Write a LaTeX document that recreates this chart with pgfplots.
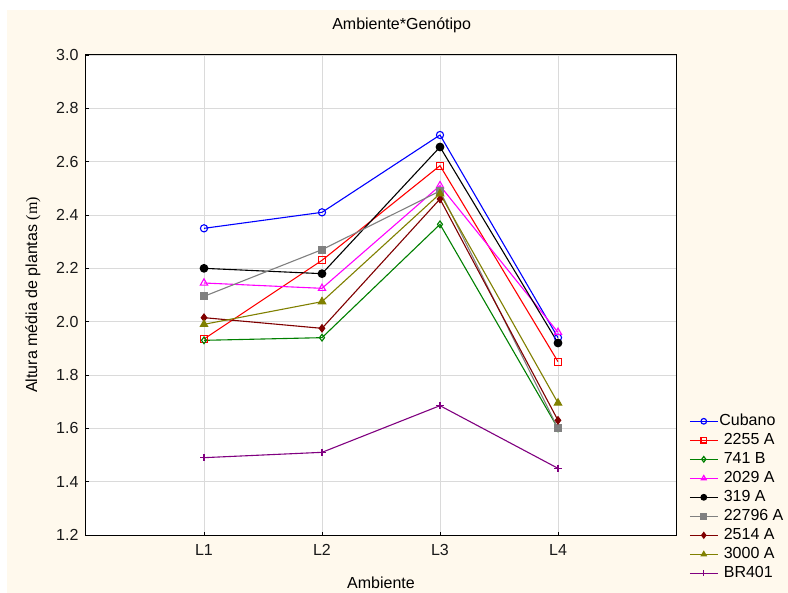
\documentclass[border=0pt]{standalone}
\usepackage{fontspec}
\setmainfont{Liberation Sans}
\newfontfamily\unitfont{Liberation Serif}
\usepackage{pgfplots}
\usepackage{pgfplotstable}
\usetikzlibrary{backgrounds}
\pgfplotsset{compat=1.18}

\definecolor{bgcream}{RGB}{255,249,237}
\definecolor{gridgray}{RGB}{218,218,218}
\definecolor{cGreen}{RGB}{0,128,0}
\definecolor{cGray}{RGB}{128,128,128}
\definecolor{cMaroon}{RGB}{128,0,0}
\definecolor{cOlive}{RGB}{128,128,0}
\definecolor{cPurple}{RGB}{128,0,128}
\definecolor{cMagenta}{RGB}{255,0,255}

\newcommand\fs{\fontsize{16bp}{19bp}\selectfont}

% Mean plant height (m) per environment for each genotype
\pgfplotstableread{
x cubano a2255 b741 a2029 a319 a22796 a2514 a3000 br401
1 2.350 1.935 1.930 2.145 2.200 2.095 2.015 1.990 1.490
2 2.410 2.230 1.940 2.125 2.180 2.270 1.975 2.075 1.510
3 2.700 2.585 2.365 2.510 2.655 2.490 2.460 2.480 1.685
4 1.940 1.850 1.600 1.960 1.920 1.600 1.630 1.695 1.450
}\meanheight

\begin{document}
\begin{tikzpicture}
\begin{axis}[
  scale only axis,
  width=590bp, height=480bp,
  at={(0,0)}, anchor=south west,
  xmin=0, xmax=5, ymin=1.2, ymax=3.0,
  xtick={1,2,3,4}, xticklabels={L1,L2,L3,L4},
  ytick={1.2,1.4,...,3.01},
  yticklabel style={/pgf/number format/fixed, /pgf/number format/fixed zerofill, /pgf/number format/precision=1, xshift=-4bp},
  /pgf/number format/assume math mode=true,
  tick label style={font=\fs, text=black!90},
  xticklabel style={yshift=-6bp},
  grid=major,
  major grid style={gridgray, line width=0.8bp},
  major tick length=3bp,
  tick style={black, line width=0.6bp},
  xtick pos=bottom, ytick pos=left,
  axis line style={black, line width=1bp},
  axis background/.style={fill=white},
  title={Ambiente*Genótipo},
  title style={font=\fs, at={(axis description cs:0.535,1.05)}, anchor=center},
  xlabel={Ambiente},
  xlabel style={font=\fs, at={(axis description cs:0.5,-0.10)}, anchor=center},
  ylabel={Altura média de plantas {\unitfont(m)}},
  ylabel style={font=\fs, at={(axis description cs:-0.09,0.5)}, anchor=center, rotate=0},
  every axis plot/.append style={line width=1.1bp, mark options={solid}},
  legend image code/.code={\draw[line width=1.2bp, mark repeat=2, mark phase=2, #1, mark size=2.8bp] plot coordinates {(0bp,0bp) (14bp,0bp) (28bp,0bp)};},
  legend style={at={(axis description cs:1.022,0.255)}, anchor=north west,
    draw=none, fill=none, font=\fs, row sep=2bp, inner sep=0bp,
    nodes={inner sep=1bp, text height=12bp, text depth=3bp}},
  legend cell align=left,
  clip=false,
]
\addplot[blue, mark=o, mark size=3.6bp] table[x=x, y=cubano] {\meanheight};
\addlegendentry{Cubano}
\addplot[red, mark=square, mark size=3.4bp] table[x=x, y=a2255] {\meanheight};
\addlegendentry{\ 2255 A}
\addplot[cGreen, mark=diamond, mark size=3.4bp] table[x=x, y=b741] {\meanheight};
\addlegendentry{\ 741 B}
\addplot[cMagenta, mark=triangle, mark size=4.2bp] table[x=x, y=a2029] {\meanheight};
\addlegendentry{\ 2029 A}
\addplot[black, mark=*, mark size=3.8bp] table[x=x, y=a319] {\meanheight};
\addlegendentry{\ 319 A}
\addplot[cGray, mark=square*, mark size=3.4bp] table[x=x, y=a22796] {\meanheight};
\addlegendentry{\ 22796 A}
\addplot[cMaroon, mark=diamond*, mark size=3.6bp] table[x=x, y=a2514] {\meanheight};
\addlegendentry{\ 2514 A}
\addplot[cOlive, mark=triangle*, mark size=4.2bp] table[x=x, y=a3000] {\meanheight};
\addlegendentry{\ 3000 A}
\addplot[cPurple, mark=+, mark size=3.8bp] table[x=x, y=br401] {\meanheight};
\addlegendentry{\ BR401}
\end{axis}
\begin{scope}[on background layer]
  \fill[bgcream] (-79bp,-66bp) rectangle (710bp,525bp);
\end{scope}
\pgfresetboundingbox
\useasboundingbox (-86bp,-58bp) rectangle (702bp,535bp);
\end{tikzpicture}
\end{document}
